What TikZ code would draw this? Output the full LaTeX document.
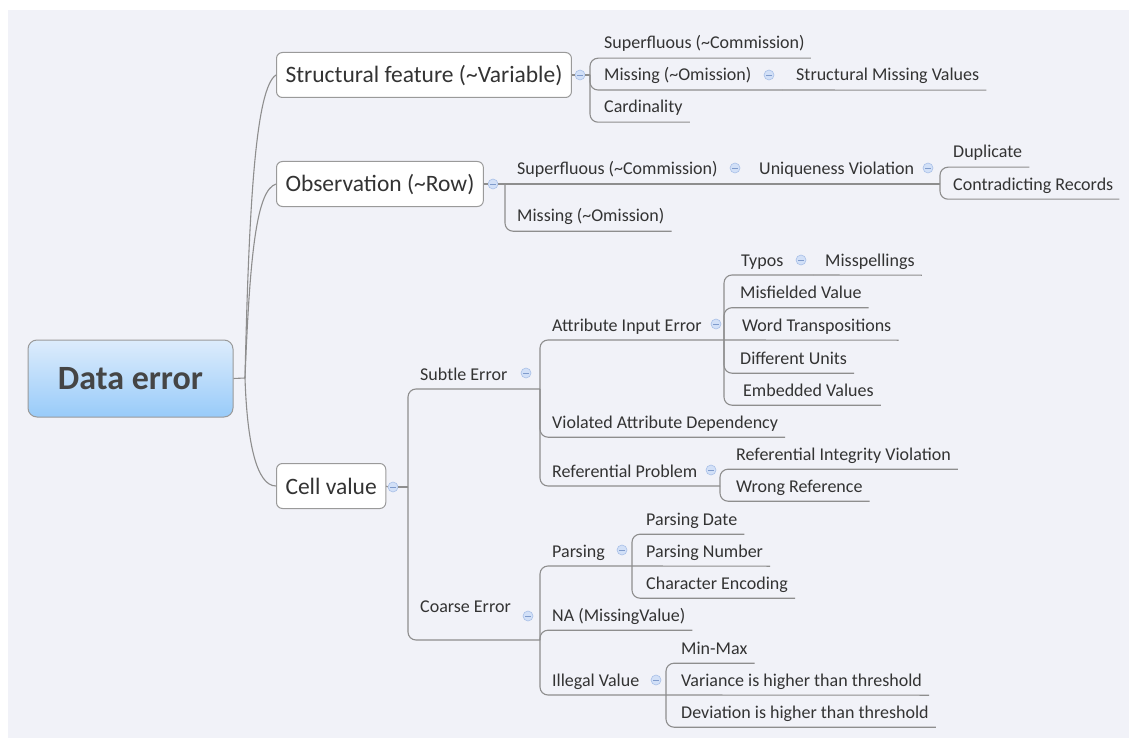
\documentclass[tikz,border=0pt]{standalone}
\usepackage{fontspec}
\setmainfont{Carlito}
\definecolor{txt}{HTML}{333333}
\definecolor{roottxt}{HTML}{454545}
\definecolor{linegray}{HTML}{8E8E8E}
\definecolor{boxgray}{HTML}{9A9A9A}
\definecolor{panel}{HTML}{F1F2F8}
\definecolor{knobfill}{HTML}{D2E0F7}
\definecolor{knobdraw}{HTML}{A9C0E8}
\definecolor{knobdash}{HTML}{7F9BCC}
\definecolor{roottop}{HTML}{DDECFC}
\definecolor{rootbot}{HTML}{98CBF9}
\begin{document}
\begin{tikzpicture}[x=1pt,y=-1pt,
  link/.style={draw=linegray, line width=1.1pt, rounded corners=8pt},
  trunkline/.style={draw=linegray, line width=1.1pt},
  leaf/.style={anchor=west, inner xsep=0pt, inner ysep=0pt, minimum height=32pt,
    text height=15pt, text depth=1pt, font=\fontsize{18}{20}\selectfont, text=txt},
  lvlbox/.style={anchor=west, draw=boxgray, line width=1pt, fill=white, rounded corners=6pt,
    minimum height=45pt, inner xsep=9pt, text height=19pt, text depth=3pt,
    font=\fontsize{23.5}{26}\selectfont, text=txt},
  rootbox/.style={draw=boxgray, line width=1pt, rounded corners=9pt, minimum width=205pt,
    minimum height=77pt, top color=roottop, bottom color=rootbot,
    font=\fontsize{34}{40}\selectfont\bfseries, text=roottxt},
  knob/.style={circle, minimum size=10pt, inner sep=0pt, fill=knobfill, draw=knobdraw,
    line width=0.6pt, path picture={\draw[knobdash, line width=0.8pt]
      ([xshift=-2.6pt]path picture bounding box.center) -- ([xshift=2.6pt]path picture bounding box.center);}}
]
\useasboundingbox (0,0) rectangle (1129,738);
\fill[white] (0,0) rectangle (1129,738);
\fill[panel] (8,10) rectangle (1129,738);

% central topic and main branches
\node[rootbox] (root) at (130.5,378.5) {Data error};
\coordinate (trunk) at (245,378);
\draw[trunkline] (root.east) -- (trunk);

\node[lvlbox] (sf) at (276,75) {Structural feature (\textasciitilde Variable)};
\node[lvlbox] (ob) at (276,184) {Observation (\textasciitilde Row)};
\node[lvlbox] (cv) at (276,486) {Cell value};

\draw[trunkline] (trunk) .. controls (249,200) and (256,88) .. (sf.west);
\draw[trunkline] (trunk) .. controls (250,250) and (257,190) .. (ob.west);
\draw[trunkline] (trunk) .. controls (247,440) and (256,486) .. (cv.west);

% Structural feature
\node[knob] (ksf) at (580,75) {};
\coordinate (ssf) at (590,75);
\draw[link] (sf.east) -- (ksf.west);
\draw[link] (ksf.east) -- (ssf);
\node[leaf] (sf1) at (604,42) {Superfluous (\textasciitilde Commission)};
\node[leaf] (sf2) at (604,74) {Missing (\textasciitilde Omission)};
\node[leaf] (sf3) at (604,106) {Cardinality};
\node[knob] (ksf2) at (769,75) {};
\coordinate (ssf2) at (782,90);
\node[leaf] (sf21) at (796,74) {Structural Missing Values};
\draw[link] (ssf) |- ([xshift=6pt]sf1.south east);
\draw[link] (ssf) |- (ssf2);
\draw[link] (ssf2) -- ([xshift=7pt]sf21.south east);
\draw[link] (ssf) |- ([xshift=7pt]sf3.south east);

% Observation
\node[knob] (kob) at (493,184) {};
\coordinate (sob) at (505,184);
\draw[link] (ob.east) -- (kob.west);
\draw[link] (kob.east) -- (sob);
\node[leaf] (ob1) at (517,168) {Superfluous (\textasciitilde Commission)};
\node[leaf] (ob2) at (517,215) {Missing (\textasciitilde Omission)};
\node[knob] (kob1) at (735,168) {};
\coordinate (sob1) at (747,184);
\node[leaf] (ob11) at (759,168) {Uniqueness Violation};
\node[knob] (kob11) at (928,168) {};
\coordinate (sob11) at (940,184);
\node[leaf] (ob111) at (953,151) {Duplicate};
\node[leaf] (ob112) at (953,183) {Contradicting Records};
\draw[link] (sob) -- (sob1);
\draw[link] (sob1) -- (sob11);
\draw[link] (sob11) |- ([xshift=7pt]ob111.south east);
\draw[link] (sob11) |- ([xshift=6pt]ob112.south east);
\draw[link] (sob) |- ([xshift=7pt]ob2.south east);

% Cell value
\node[knob] (kcv) at (393,487) {};
\coordinate (scv) at (408,487);
\draw[link] (cv.east) -- (kcv.west);
\draw[link] (kcv.east) -- (scv);

% Subtle error
\node[leaf] (se) at (420,373) {Subtle Error};
\node[knob] (kse) at (526,373) {};
\coordinate (sse) at (540,389);
\draw[link] (scv) |- (sse);

\node[leaf] (ai) at (552,324) {Attribute Input Error};
\node[knob] (kai) at (716,324) {};
\coordinate (sai) at (724,340);
\draw[link] (sse) |- (sai);

\node[leaf] (ty) at (741,259) {Typos};
\node[knob] (kty) at (801,260) {};
\coordinate (sty) at (813,275);
\node[leaf] (msp) at (825,259) {Misspellings};
\draw[link] (sai) |- (sty);
\draw[link] (sty) -- ([xshift=7pt]msp.south east);

\node[leaf] (mf) at (740,291.5) {Misfielded Value};
\node[leaf] (wt) at (742,324) {Word Transpositions};
\node[leaf] (du) at (740,357) {Different Units};
\node[leaf] (ev) at (743,389) {Embedded Values};
\draw[link] (sai) |- ([xshift=7pt]mf.south east);
\draw[link] (sai) -- ([xshift=7pt]wt.south east);
\draw[link] (sai) |- ([xshift=7pt]du.south east);
\draw[link] (sai) |- ([xshift=7pt]ev.south east);

\node[leaf] (va) at (552,421) {Violated Attribute Dependency};
\draw[link] (sse) |- ([xshift=7pt]va.south east);

\node[leaf] (rp) at (552,470) {Referential Problem};
\node[knob] (krp) at (711,470) {};
\coordinate (srp) at (720,486);
\draw[link] (sse) |- (srp);
\node[leaf] (ri) at (736,453) {Referential Integrity Violation};
\node[leaf] (wr) at (736,485) {Wrong Reference};
\draw[link] (srp) |- ([xshift=7pt]ri.south east);
\draw[link] (srp) |- ([xshift=7pt]wr.south east);

% Coarse error
\node[leaf] (ce) at (420,605) {Coarse Error};
\node[knob] (kce) at (528,616) {};
\coordinate (sce) at (540,640);
\draw[link] (scv) |- (sce);

\node[leaf] (pa) at (552,550) {Parsing};
\node[knob] (kpa) at (622,550) {};
\coordinate (spa) at (632,566);
\draw[link] (sce) |- (spa);
\node[leaf] (pd) at (646,518) {Parsing Date};
\node[leaf] (pn) at (646,550) {Parsing Number};
\node[leaf] (ch) at (646,582) {Character Encoding};
\draw[link] (spa) |- ([xshift=7pt]pd.south east);
\draw[link] (spa) -- ([xshift=7pt]pn.south east);
\draw[link] (spa) |- ([xshift=7pt]ch.south east);

\node[leaf] (na) at (552,614) {NA (MissingValue)};
\draw[link] (sce) |- ([xshift=7pt]na.south east);

\node[leaf] (il) at (552,679) {Illegal Value};
\node[knob] (kil) at (656,680) {};
\coordinate (sil) at (666,695);
\draw[link] (sce) |- (sil);
\node[leaf] (mm) at (681,647) {Min-Max};
\node[leaf] (vh) at (681,679) {Variance is higher than threshold};
\node[leaf] (dh) at (681,711) {Deviation is higher than threshold};
\draw[link] (sil) |- ([xshift=7pt]mm.south east);
\draw[link] (sil) -- ([xshift=7pt]vh.south east);
\draw[link] (sil) |- ([xshift=7pt]dh.south east);
\end{tikzpicture}
\end{document}
